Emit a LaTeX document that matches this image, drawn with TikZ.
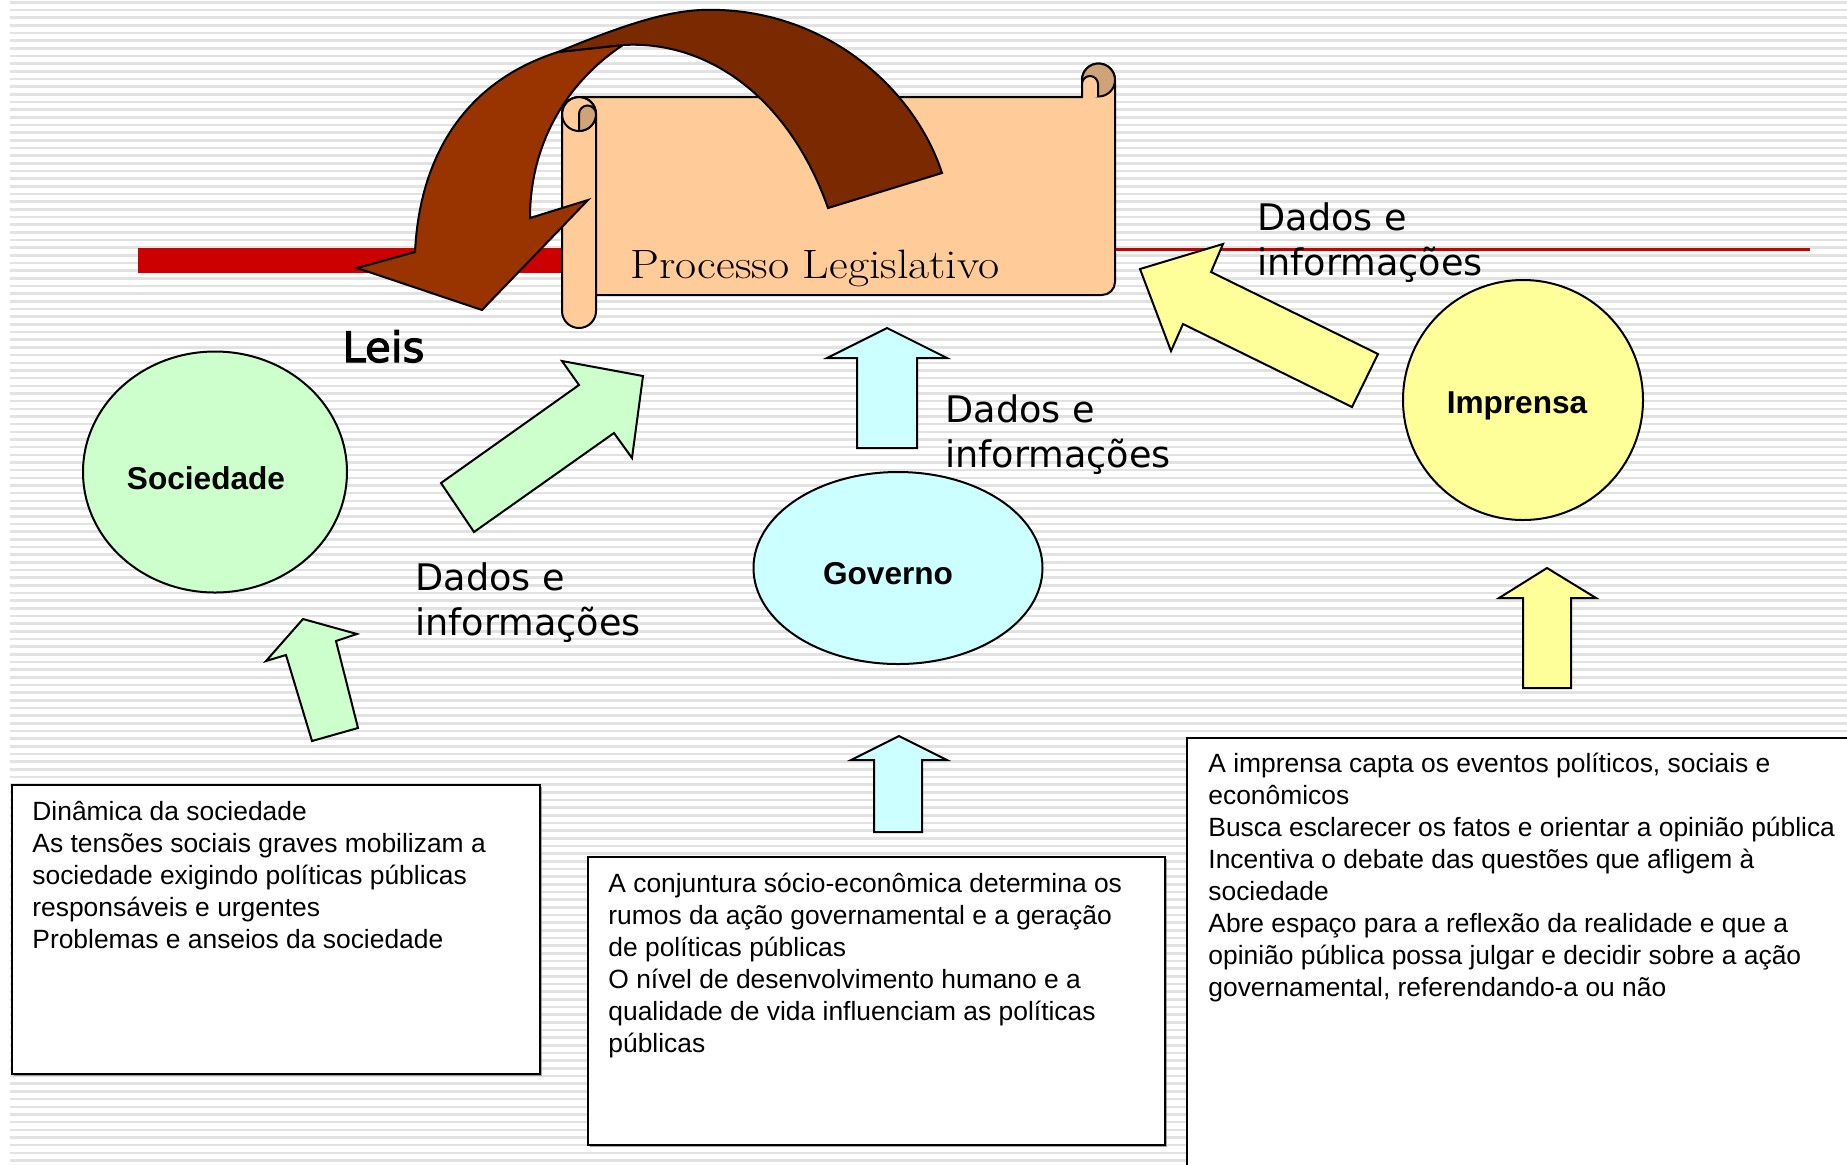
\documentclass[tikz,border=0pt]{standalone}
\usepackage{fontspec}
\usepackage{graphicx}
\setsansfont{Liberation Sans}
\newfontfamily\dadosfont{DejaVu Sans}
\newfontfamily\leisfont[FakeBold=2.5]{DejaVu Sans}
\usetikzlibrary{shapes.geometric, shadows}

\definecolor{socgreen}{RGB}{204,255,204}
\definecolor{govcyan}{RGB}{204,255,255}
\definecolor{impyellow}{RGB}{255,255,153}
\definecolor{scrollpeach}{RGB}{255,204,153}
\definecolor{curltan}{RGB}{207,163,122}
\definecolor{leisbrown}{RGB}{153,51,0}
\definecolor{leisdark}{RGB}{122,41,0}
\definecolor{barred}{RGB}{204,0,0}
\definecolor{stripegray}{RGB}{226,226,226}

\begin{document}
\begin{tikzpicture}[x=0.5pt, y=-0.5pt,
   base_style/.style={draw=black, line width=1pt},
   ellipse_style/.style={base_style, ellipse, inner sep=0pt},
   label_style/.style={inner sep=0pt, font=\sffamily\bfseries\fontsize{15.8pt}{19pt}\selectfont},
   box_style/.style={draw=black, line width=0.8pt, fill=white, inner sep=0pt, anchor=north west,
      drop shadow={shadow xshift=1pt, shadow yshift=-1pt, opacity=0.7}},
   box_text_style/.style={anchor=base west, align=left, inner sep=0pt, font=\sffamily\fontsize{13.2pt}{15.95pt}\selectfont},
   dados_style/.style={anchor=base west, align=left, inner sep=0pt, font=\dadosfont\fontsize{18.3pt}{22.5pt}\selectfont},
   block_arrow_style/.style={base_style, line join=miter},
   scroll_style/.style={base_style, fill=scrollpeach},
   curl_style/.style={base_style, fill=curltan},
   stripe_style/.style={fill=stripegray}]

    \useasboundingbox (0,0) rectangle (1847,1164);
    \clip (0,0) rectangle (1847,1164);
    \fill[white] (0,0) rectangle (1847,1164);
    \foreach \k in {0,...,151}
        \fill[stripe_style] (10,{1+7.67*\k}) rectangle ++(1837,2.6);

    % red line behind the scroll
    \fill[barred] (138,248) rectangle (1116,273);
    \fill[barred] (1116,248) rectangle (1810,250.5);

    \node[ellipse_style, fill=socgreen, minimum width=132pt, minimum height=120.5pt] (soc) at (215,472) {};
    \node[ellipse_style, fill=govcyan, minimum width=144.5pt, minimum height=96pt] (gov) at (898,568) {};
    \node[ellipse_style, fill=impyellow, minimum width=120pt, minimum height=120pt] (imp) at (1523,400) {};
    \node[label_style] (soc_label) at (206,478) {Sociedade};
    \node[label_style] (gov_label) at (888,574) {Governo};
    \node[label_style] (imp_label) at (1517,406) {Imprensa};

    \node[box_style, minimum width=264pt, minimum height=144.5pt] (box_soc) at (11,784) {};
    \node[box_style, minimum width=288.5pt, minimum height=144pt] (box_gov) at (587,856) {};
    \node[box_style, minimum width=337pt, minimum height=221.5pt] (box_imp) at (1186,737) {};

    % anchored at the baseline of the last line
    \node[box_text_style] (txt_soc) at (32,948) {Dinâmica da sociedade\\
        As tensões sociais graves mobilizam a\\
        sociedade exigindo políticas públicas\\
        responsáveis e urgentes\\
        Problemas e anseios da sociedade};
    \node[box_text_style] (txt_gov) at (608,1052) {A conjuntura sócio-econômica determina os\\
        rumos da ação governamental e a geração\\
        de políticas públicas\\
        O nível de desenvolvimento humano e a\\
        qualidade de vida influenciam as políticas\\
        públicas};
    \node[box_text_style] (txt_imp) at (1208,996) {A imprensa capta os eventos políticos, sociais e\\
        econômicos\\
        Busca esclarecer os fatos e orientar a opinião pública\\
        Incentiva o debate das questões que afligem à\\
        sociedade\\
        Abre espaço para a reflexão da realidade e que a\\
        opinião pública possa julgar e decidir sobre a ação\\
        governamental, referendando-a ou não};

    % block arrows
    \draw[block_arrow_style, fill=socgreen] (441,483) -- (579,385) -- (562,361) -- (643,376) -- (632,458) -- (614,433) -- (474,532) -- cycle;
    \draw[block_arrow_style, fill=socgreen] (303,619) -- (357,634) -- (336,641) -- (358,728) -- (312,741) -- (286,655) -- (266,661) -- cycle;
    \draw[block_arrow_style, fill=govcyan] (887,328) -- (947,358) -- (917,358) -- (917,448) -- (857,448) -- (857,358) -- (827,358) -- cycle;
    \draw[block_arrow_style, fill=govcyan] (899,736) -- (947,760) -- (922,760) -- (922,832) -- (874,832) -- (874,760) -- (851,760) -- cycle;
    \draw[block_arrow_style, fill=impyellow] (1547,568) -- (1596,598) -- (1571,598) -- (1571,688) -- (1523,688) -- (1523,598) -- (1499,598) -- cycle;
    \draw[block_arrow_style, fill=impyellow] (1140,269) -- (1223,244) -- (1211,272) -- (1378,354) -- (1352,407) -- (1183,324) -- (1171,351) -- cycle;

    % scroll
    \draw[scroll_style] (579,97) -- (1082,97) -- (1082,80) arc[start angle=180, end angle=360, radius=16.5]
        -- (1115,282) arc[start angle=0, end angle=90, radius=13] -- (579,295) -- cycle;
    \draw[curl_style] (1098.5,80) circle[radius=16.5];
    \draw[scroll_style] (1082,97) -- (1082,84) arc[start angle=180, end angle=360, radius=8] -- (1098,97);
    \draw[scroll_style, rounded corners=8.5pt] (562,97) rectangle (596,328);
    \draw[base_style] (579,114) circle[radius=17];
    \draw[curl_style] (579,131) -- (579,114) arc[start angle=180, end angle=360, radius=8.5]
        -- (596,114) arc[start angle=0, end angle=90, radius=17] -- cycle;
    \node[anchor=base west, inner sep=0pt, font=\fontsize{20.5pt}{24pt}\selectfont] (proc) at (630,278) {\scalebox{1.12}[1]{Processo Legislativo}};

    % curved arrow
    \draw[base_style, fill=leisbrown] (558,52) .. controls (470,80) and (420,150) .. (415,252) -- (357,268) -- (482,310)
        -- (588,200) -- (530,218) .. controls (530,140) and (570,80) .. (623,45) -- cycle;
    \draw[base_style, fill=leisdark] (558,52) .. controls (640,18) and (680,8) .. (720,10) .. controls (830,14) and (915,90) .. (942,173)
        -- (828,208) .. controls (790,100) and (710,40) .. (623,45) -- cycle;

    \node[anchor=base west, inner sep=0pt, font=\leisfont\fontsize{21pt}{25pt}\selectfont] (leis) at (342,362) {Leis};
    \node[dados_style] (dados_soc) at (415,635) {Dados e\\informações};
    \node[dados_style] (dados_gov) at (945,467) {Dados e\\informações};
    \node[dados_style] (dados_imp) at (1257,275) {Dados e\\informações};
\end{tikzpicture}
\end{document}
